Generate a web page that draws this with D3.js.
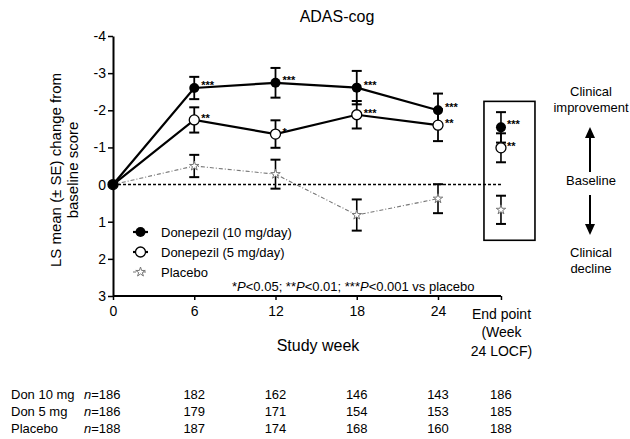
<!DOCTYPE html>
<html>
<head>
<meta charset="utf-8">
<script src="https://cdn.jsdelivr.net/npm/d3@7"></script>
<style>
  html, body { margin: 0; padding: 0; background: #fff; }
  svg { display: block; font-family: "Liberation Sans", Arial, Helvetica, sans-serif; }
</style>
</head>
<body>
<svg id="chart" width="630" height="439"></svg>
<script>
// ---------- data ----------
const weeks = [0, 6, 12, 18, 24];
const endpointWeek = 28.65; // position of "End point" column on the week axis
const xTickValues = [0, 6, 12, 18, 24, endpointWeek];
const xTickLabels = ["0", "6", "12", "18", "24", "End point|(Week|24 LOCF)"];
const yTickValues = [-4, -3, -2, -1, 0, 1, 2, 3];

const seriesNames = ["Donepezil (10 mg/day)", "Donepezil (5 mg/day)", "Placebo"];
const don10   = [0, -2.60, -2.74, -2.61, -2.00];
const don10SE = [0, 0.30, 0.40, 0.45, 0.45];
const don5    = [0, -1.74, -1.36, -1.88, -1.60];
const don5SE  = [0, 0.34, 0.37, 0.37, 0.43];
const placebo   = [0, -0.50, -0.28, 0.82, 0.38];
const placeboSE = [0, 0.30, 0.39, 0.42, 0.39];

const endpointValues = [-1.54, -0.99, 0.68];
const endpointSE     = [0.41, 0.39, 0.38];

const sig10 = ["", "***", "***", "***", "***"];
const sig5  = ["", "**", "*", "***", "**"];
const endpointSig = ["***", "**", ""];

const tableRows = ["Don 10 mg", "Don 5 mg", "Placebo"];
const tableBaseN = ["186", "186", "188"];
const tableCounts = [
  [182, 162, 146, 143, 186],
  [179, 171, 154, 153, 185],
  [187, 174, 168, 160, 188]
];

// ---------- scales ----------
const svg = d3.select("#chart");
const x = d3.scaleLinear().domain([0, 24]).range([113, 438]);
const y = d3.scaleLinear().domain([-4, 3]).range([36, 296]);

const FONT = '"Liberation Sans", Arial, Helvetica, sans-serif';

// ---------- title ----------
svg.append("text").attr("x", 337).attr("y", 22).attr("text-anchor", "middle")
  .attr("font-size", 16).text("ADAS-cog");

// ---------- axes ----------
const yAxis = d3.axisLeft(y).tickValues(yTickValues).tickSize(5).tickSizeOuter(0)
  .tickPadding(2).tickFormat(d => String(d));
const gy = svg.append("g").attr("transform", `translate(${x(0)},0)`).call(yAxis);
gy.select(".domain").attr("stroke-width", 2);
gy.selectAll(".tick line").attr("stroke-width", 1.5);
gy.selectAll(".tick text").attr("font-size", 14).attr("font-family", FONT).attr("fill", "#000");

const xAxis = d3.axisBottom(x).tickValues(xTickValues).tickSize(4).tickSizeOuter(0)
  .tickPadding(6).tickFormat((d, i) => xTickLabels[i]);
const gx = svg.append("g").attr("transform", `translate(0,${y(3)})`).call(xAxis);
gx.select(".domain").attr("stroke-width", 2)
  .attr("d", `M${x(0)},0H${x(endpointWeek)}`);
gx.selectAll(".tick line").attr("stroke-width", 1.5);
gx.selectAll(".tick text").attr("font-size", 14).attr("font-family", FONT).attr("fill", "#000")
  .each(function(d, i) {
    const lines = xTickLabels[i].split("|");
    if (lines.length > 1) {
      const t = d3.select(this);
      t.text(null);
      lines.forEach((l, k) => {
        t.append("tspan").attr("x", 0).attr("dy", k === 0 ? "0.71em" : 18.5).text(l);
      });
      t.attr("dy", null).attr("y", 13);
    }
  });

svg.append("text").attr("x", 318).attr("y", 351).attr("text-anchor", "middle")
  .attr("font-size", 16).text("Study week");

// y-axis label
const yl = svg.append("text").attr("transform", "translate(61,170) rotate(-90)")
  .attr("text-anchor", "middle").attr("font-size", 15);
yl.append("tspan").attr("x", 0).attr("y", 0).text("LS mean (\u00B1 SE) change from");
yl.append("tspan").attr("x", 0).attr("y", 16.5).text("baseline score");

// ---------- baseline dashed ----------
svg.append("line").attr("x1", x(0)).attr("x2", x(endpointWeek)).attr("y1", y(0)).attr("y2", y(0))
  .attr("stroke", "#000").attr("stroke-width", 1.4).attr("stroke-dasharray", "3,2");

// ---------- endpoint box ----------
svg.append("rect").attr("x", x(endpointWeek) - 17).attr("y", y(-2.24))
  .attr("width", 51).attr("height", y(1.5) - y(-2.24))
  .attr("fill", "none").attr("stroke", "#000").attr("stroke-width", 1.6);

// ---------- series ----------
const series = [
  { vals: don10, se: don10SE, sig: sig10, type: "filled" },
  { vals: don5, se: don5SE, sig: sig5, type: "open" },
  { vals: placebo, se: placeboSE, sig: null, type: "placebo" }
];

const line = d3.line().x(d => x(d[0])).y(d => y(d[1]));

function errBar(g, xv, v, se, w) {
  const cx = x(xv);
  g.append("line").attr("x1", cx).attr("x2", cx).attr("y1", y(v - se)).attr("y2", y(v + se))
    .attr("stroke", "#000").attr("stroke-width", w);
  [v - se, v + se].forEach(e => {
    g.append("line").attr("x1", cx - 5).attr("x2", cx + 5).attr("y1", y(e)).attr("y2", y(e))
      .attr("stroke", "#000").attr("stroke-width", 2);
  });
}

function marker(g, type, cx, cy) {
  if (type === "filled") {
    g.append("circle").attr("cx", cx).attr("cy", cy).attr("r", 5).attr("fill", "#000");
  } else if (type === "open") {
    g.append("circle").attr("cx", cx).attr("cy", cy).attr("r", 5).attr("fill", "#fff")
      .attr("stroke", "#000").attr("stroke-width", 1.3);
  } else {
    g.append("path").attr("d", d3.symbol(d3.symbolStar, 28)())
      .attr("transform", `translate(${cx},${cy})`)
      .attr("fill", "#fff").attr("stroke", "#777").attr("stroke-width", 1);
  }
}

const gPl = svg.append("g");
const gDon = svg.append("g");
const gMk = svg.append("g");

// placebo
gPl.append("path").datum(weeks.map((w, i) => [w, placebo[i]])).attr("d", line)
  .attr("fill", "none").attr("stroke", "#777").attr("stroke-width", 1.1)
  .attr("stroke-dasharray", "4,2,1,2");

// donepezil lines
[don5, don10].forEach(vals => {
  gDon.append("path").datum(weeks.map((w, i) => [w, vals[i]])).attr("d", line)
    .attr("fill", "none").attr("stroke", "#000").attr("stroke-width", 2.2);
});

// error bars (weeks 6..24)
series.forEach(s => {
  weeks.forEach((w, i) => { if (s.se[i] > 0) errBar(gMk, w, s.vals[i], s.se[i], s.type === "placebo" ? 1.6 : 1.8); });
});
// endpoint error bars
series.forEach((s, k) => errBar(gMk, endpointWeek, endpointValues[k], endpointSE[k], 1.6));

// markers (draw placebo, 5 mg, then 10 mg so filled is on top at week 0)
[2, 1, 0].forEach(k => {
  const s = series[k];
  weeks.forEach((w, i) => marker(gMk, s.type, x(w), y(s.vals[i])));
  marker(gMk, s.type, x(endpointWeek), y(endpointValues[k]));
});

// significance stars
const starDy = [1, 2];
[0, 1].forEach(k => {
  const s = series[k];
  weeks.forEach((w, i) => {
    if (s.sig[i]) {
      gMk.append("text").attr("x", x(w) + 7).attr("y", y(s.vals[i]) + starDy[k])
        .attr("font-size", 11).attr("font-weight", "bold").text(s.sig[i]);
    }
  });
  gMk.append("text").attr("x", x(endpointWeek) + 6).attr("y", y(endpointValues[k]) + starDy[k])
    .attr("font-size", 11).attr("font-weight", "bold").text(endpointSig[k]);
});

// ---------- legend ----------
const leg = svg.append("g");
const legY = [232, 252, 272];
series.forEach((s, k) => {
  const ly = legY[k];
  leg.append("line").attr("x1", 133).attr("x2", 148).attr("y1", ly).attr("y2", ly)
    .attr("stroke", s.type === "placebo" ? "#777" : "#000")
    .attr("stroke-width", s.type === "placebo" ? 1.1 : 2.2)
    .attr("stroke-dasharray", s.type === "placebo" ? "3,2" : null);
  marker(leg, s.type, 140.5, ly);
  leg.append("text").attr("x", 161).attr("y", ly + 5).attr("font-size", 13).text(seriesNames[k]);
});

// footnote
const fn = svg.append("text").attr("x", 232).attr("y", 291).attr("font-size", 13);
[["*", false], ["P", true], ["<0.05; **", false], ["P", true], ["<0.01; ***", false], ["P", true], ["<0.001 vs placebo", false]]
  .forEach(([t, it]) => fn.append("tspan").attr("font-style", it ? "italic" : null).text(t));

// ---------- right annotations ----------
const ann = svg.append("g").attr("font-size", 13).attr("text-anchor", "middle");
ann.append("text").attr("x", 591).attr("y", 96).text("Clinical");
ann.append("text").attr("x", 591).attr("y", 112).text("improvement");
ann.append("text").attr("x", 591).attr("y", 185).text("Baseline");
ann.append("text").attr("x", 591).attr("y", 257).text("Clinical");
ann.append("text").attr("x", 591).attr("y", 273).text("decline");
ann.append("line").attr("x1", 590).attr("x2", 590).attr("y1", 172).attr("y2", 136)
  .attr("stroke", "#000").attr("stroke-width", 2);
ann.append("path").attr("d", "M585,138L590,127L595,138Z").attr("fill", "#000");
ann.append("line").attr("x1", 590).attr("x2", 590).attr("y1", 195).attr("y2", 226)
  .attr("stroke", "#000").attr("stroke-width", 2);
ann.append("path").attr("d", "M585,224L590,235L595,224Z").attr("fill", "#000");

// ---------- table ----------
const tab = svg.append("g").attr("font-size", 13);
const rowY = [399, 416, 433];
tableRows.forEach((r, i) => {
  tab.append("text").attr("x", 11).attr("y", rowY[i]).text(r);
  const nt = tab.append("text").attr("x", 84).attr("y", rowY[i]);
  nt.append("tspan").attr("font-style", "italic").text("n");
  nt.append("tspan").text("=" + tableBaseN[i]);
  tableCounts[i].forEach((c, j) => {
    const xv = j < 4 ? weeks[j + 1] : endpointWeek;
    tab.append("text").attr("x", x(xv)).attr("y", rowY[i]).attr("text-anchor", "middle").text(c);
  });
});
</script>
</body>
</html>
